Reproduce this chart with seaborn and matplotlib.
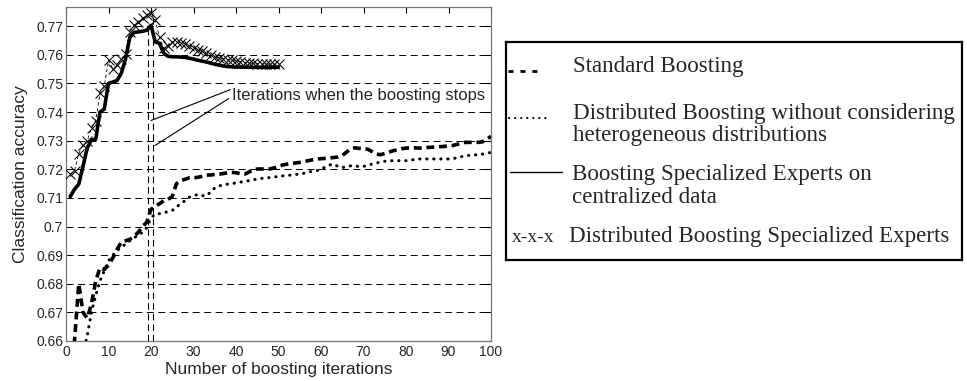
import matplotlib
matplotlib.use("Agg")
import matplotlib.pyplot as plt
import pandas as pd
import seaborn as sns

# Boosting rounds 1..100 for the two baseline methods
iterations_long = list(range(1, 101))
standard_boosting = [
    0.650, 0.660, 0.680, 0.670, 0.668, 0.673, 0.681, 0.6856, 0.685, 0.6865,
    0.689, 0.692, 0.6945, 0.695, 0.6955, 0.6965, 0.698, 0.700, 0.7015, 0.706,
    0.707, 0.708, 0.709, 0.7095, 0.7105, 0.715, 0.716, 0.7165, 0.717, 0.717,
    0.7172, 0.7175, 0.718, 0.718, 0.7182, 0.7183, 0.7185, 0.7188, 0.7189, 0.7188,
    0.7185, 0.7183, 0.719, 0.7198, 0.7201, 0.7201, 0.7201, 0.7201, 0.7205, 0.721,
    0.7215, 0.7218, 0.722, 0.7222, 0.7224, 0.7227, 0.723, 0.7233, 0.7236, 0.7237,
    0.7238, 0.724, 0.7241, 0.7243, 0.7248, 0.726, 0.7272, 0.7275, 0.7273, 0.7271,
    0.727, 0.7262, 0.7253, 0.7251, 0.7255, 0.726, 0.7265, 0.7268, 0.7272, 0.7274,
    0.7275, 0.7275, 0.7274, 0.7274, 0.7276, 0.7277, 0.7278, 0.7279, 0.728, 0.7282,
    0.7283, 0.7287, 0.7292, 0.7294, 0.7294, 0.7294, 0.7294, 0.7296, 0.7305, 0.7315,
]
distributed_plain = [
    0.648, 0.652, 0.650, 0.655, 0.662, 0.670, 0.676, 0.681, 0.6845, 0.688,
    0.690, 0.6915, 0.693, 0.6937, 0.695, 0.696, 0.697, 0.698, 0.6996, 0.703,
    0.7043, 0.7045, 0.7048, 0.7052, 0.7056, 0.7068, 0.708, 0.709, 0.7102, 0.7107,
    0.7112, 0.7108, 0.7107, 0.712, 0.7135, 0.7142, 0.7145, 0.7148, 0.715, 0.7152,
    0.7155, 0.7158, 0.716, 0.7163, 0.7166, 0.7168, 0.717, 0.7171, 0.7173, 0.7175,
    0.7177, 0.7178, 0.718, 0.7182, 0.7183, 0.7186, 0.719, 0.7193, 0.7195, 0.720,
    0.7208, 0.7215, 0.7218, 0.721, 0.7206, 0.7209, 0.7212, 0.7212, 0.7209, 0.721,
    0.7214, 0.7218, 0.7222, 0.7225, 0.7228, 0.723, 0.723, 0.723, 0.723, 0.723,
    0.7232, 0.7234, 0.7236, 0.7236, 0.7236, 0.7236, 0.7236, 0.7236, 0.7236, 0.7236,
    0.7237, 0.724, 0.7244, 0.7247, 0.7249, 0.725, 0.7251, 0.7253, 0.7256, 0.7259,
]

# Specialized-experts runs stop after 50 rounds
iterations_short = list(range(1, 51))
central_experts = [
    0.7105, 0.713, 0.7148, 0.721, 0.7275, 0.7303, 0.7305, 0.740, 0.741, 0.750,
    0.7505, 0.751, 0.7535, 0.7585, 0.766, 0.7678, 0.768, 0.7682, 0.7686, 0.7703,
    0.7645, 0.764, 0.7605, 0.7595, 0.7593, 0.7593, 0.7592, 0.7591, 0.7588, 0.7585,
    0.7581, 0.7578, 0.7575, 0.7571, 0.7567, 0.7564, 0.7561, 0.7559, 0.7558, 0.7557,
    0.7557, 0.7557, 0.7557, 0.7556, 0.7556, 0.7556, 0.7556, 0.7556, 0.7557, 0.7557,
]
distributed_experts = [
    0.7183, 0.7195, 0.7255, 0.7285, 0.730, 0.7345, 0.737, 0.7465, 0.749, 0.7581,
    0.7552, 0.7563, 0.7585, 0.7604, 0.768, 0.7703, 0.7715, 0.7727, 0.7739, 0.7745,
    0.7722, 0.7662, 0.7622, 0.7632, 0.7645, 0.7645, 0.7642, 0.7639, 0.7632, 0.7625,
    0.7618, 0.7612, 0.7605, 0.7598, 0.7593, 0.7589, 0.7586, 0.7583, 0.7581, 0.7578,
    0.7576, 0.7573, 0.7571, 0.757, 0.7569, 0.7568, 0.7568, 0.7567, 0.7567, 0.7567,
]

# Rounds at which the two expert variants stop improving
stop_iters = [19.4, 20.4]
stop_levels = [max(central_experts), max(distributed_experts)]

x_ticks = [0, 10, 20, 30, 40, 50, 60, 70, 80, 90, 100]
y_ticks = [0.66, 0.67, 0.68, 0.69, 0.70, 0.71, 0.72, 0.73, 0.74, 0.75, 0.76, 0.77]
y_tick_labels = ["0.66", "0.67", "0.68", "0.69", "0.7", "0.71", "0.72",
                 "0.73", "0.74", "0.75", "0.76", "0.77"]

legend_rows = [
    ("Standard Boosting",),
    ("Distributed Boosting without considering", "heterogeneous distributions"),
    ("Boosting Specialized Experts on", "centralized data"),
    ("Distributed Boosting Specialized Experts",),
]

long_df = pd.DataFrame({"iteration": iterations_long,
                        "standard": standard_boosting,
                        "plain": distributed_plain})
short_df = pd.DataFrame({"iteration": iterations_short,
                         "central": central_experts,
                         "experts": distributed_experts})

sns.set_theme(style="white")
plt.rcParams["font.family"] = ["Liberation Sans", "DejaVu Sans"]

W, H = 967, 381
fig = plt.figure(figsize=(W / 100, H / 100), dpi=100)
ax = fig.add_axes([66 / W, 40 / H, 425 / W, 334 / H])

# horizontal dashed grid
for yv in y_ticks:
    ax.axhline(yv, color="black", lw=0.7, ls=(0, (7.2, 4.6)), zorder=1)

sns.lineplot(data=long_df, x="iteration", y="standard", ax=ax, color="black",
             lw=2.6, linestyle=(0, (2.2, 1.3)), dash_capstyle="butt", zorder=3)
sns.lineplot(data=long_df, x="iteration", y="plain", ax=ax, color="black",
             lw=2.2, linestyle=(0, (0.1, 2.2)), dash_capstyle="round", zorder=3)
sns.lineplot(data=short_df, x="iteration", y="central", ax=ax, color="black",
             lw=2.6, zorder=3)
sns.lineplot(data=short_df, x="iteration", y="experts", ax=ax, color="black",
             lw=0.6, linestyle=(0, (4, 3)), marker="x", markersize=6.5,
             markeredgewidth=0.75, markeredgecolor="black",
             markerfacecolor="black", zorder=4)

# vertical markers at the stopping rounds
for xs, top in zip(stop_iters, stop_levels):
    ax.plot([xs, xs], [0.66, top], color="black", lw=0.8,
            ls=(0, (6, 3.5)), zorder=2)

ax.text(39, 0.7442, "Iterations when the boosting stops", fontsize=12,
        ha="left", va="baseline", zorder=5)
ax.annotate("", xy=(stop_iters[0], 0.7367), xytext=(39.3, 0.7482),
            arrowprops=dict(arrowstyle="-", lw=0.8, color="black"))
ax.annotate("", xy=(stop_iters[1], 0.7278), xytext=(38.8, 0.7452),
            arrowprops=dict(arrowstyle="-", lw=0.8, color="black"))

ax.set_xlim(0, 100)
ax.set_ylim(0.66, 0.7767)
ax.set_xticks(x_ticks)
ax.set_yticks(y_ticks)
ax.set_yticklabels(y_tick_labels)
ax.tick_params(direction="in", top=True, right=True, length=4, width=0.8,
               color="black", labelsize=10, pad=3)
ax.tick_params(axis="y", pad=2)
for s in ax.spines.values():
    s.set_visible(True)
    s.set_color("#777777")
    s.set_linewidth(0.9)
ax.set_xlabel("Number of boosting iterations", fontsize=12.5, labelpad=2)
ax.set_ylabel("Classification accuracy", fontsize=12.5, labelpad=6)

# legend panel drawn in pixel coordinates
lax = fig.add_axes([506 / W, 1 - 260 / H, (962 - 506) / W, (260 - 41.7) / H])
lax.set_xlim(506, 962)
lax.set_ylim(260, 41.7)
lax.set_xticks([])
lax.set_yticks([])
lax.set_facecolor("white")
for s in lax.spines.values():
    s.set_visible(True)
    s.set_color("black")
    s.set_linewidth(1.6)

serif = ["Liberation Serif", "DejaVu Serif"]
fs = 16.6
lax.plot([508, 538], [71, 71], color="black", lw=2.0,
         ls=(0, (1.8, 2.5)), dash_capstyle="butt")
lax.plot([509, 549], [118, 118], color="black", lw=1.5,
         ls=(0, (0.1, 2.8)), dash_capstyle="round")
lax.plot([510, 562], [172, 172], color="black", lw=1.0)
lax.text(512, 241.7, "x-x-x", family=serif, fontsize=14, va="baseline")

baselines = [[71.7], [118.5, 141.5], [180, 203.3], [241.7]]
x_text = [572.7, 572.7, 571.7, 569]
for lines, ys, xt in zip(legend_rows, baselines, x_text):
    for line, yb in zip(lines, ys):
        lax.text(xt, yb, line, family=serif, fontsize=fs, va="baseline")

fig.savefig("out.png", dpi=100)
